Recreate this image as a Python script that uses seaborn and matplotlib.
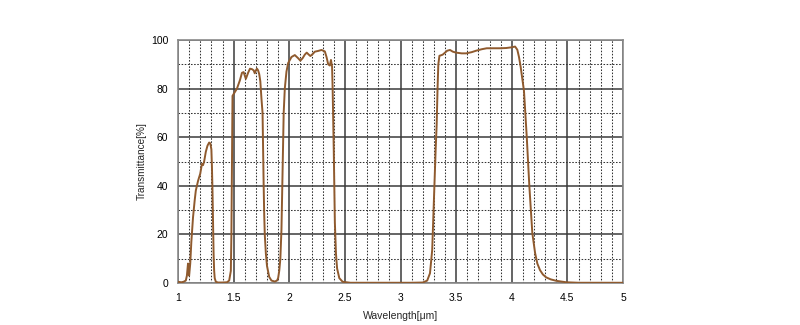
import matplotlib
matplotlib.use("Agg")
import matplotlib.pyplot as plt
import seaborn as sns
import pandas as pd

wavelength = [
    1.00, 1.03, 1.05, 1.07, 1.08, 1.09, 1.095, 1.10, 1.11, 1.12, 1.135, 1.15, 1.16, 1.18, 1.20,
    1.215, 1.225, 1.235, 1.25, 1.265, 1.28, 1.29, 1.30, 1.305, 1.31, 1.315, 1.32, 1.325, 1.33,
    1.34, 1.36, 1.40, 1.44, 1.46, 1.475, 1.48, 1.485, 1.488, 1.49, 1.51, 1.53, 1.557, 1.575,
    1.59, 1.61, 1.63, 1.647, 1.665, 1.68, 1.69, 1.70, 1.71, 1.72, 1.73, 1.74, 1.75, 1.76,
    1.765, 1.77, 1.775, 1.78, 1.79, 1.80, 1.82, 1.84, 1.87, 1.89, 1.90, 1.91, 1.92, 1.93,
    1.94, 1.95, 1.96, 1.975, 1.99, 2.02, 2.05, 2.08, 2.10, 2.12, 2.14, 2.157, 2.175, 2.19,
    2.21, 2.23, 2.26, 2.29, 2.32, 2.335, 2.35, 2.365, 2.375, 2.385, 2.39, 2.40, 2.41, 2.42,
    2.43, 2.45, 2.48, 2.55, 2.80, 3.00, 3.10, 3.20, 3.24, 3.265, 3.285, 3.295, 3.305, 3.316,
    3.325, 3.333, 3.34, 3.35, 3.37, 3.38, 3.40, 3.42, 3.445, 3.47, 3.50, 3.55, 3.59, 3.64,
    3.68, 3.73, 3.775, 3.85, 3.895, 3.95, 4.00, 4.03, 4.05, 4.065, 4.08, 4.095, 4.11, 4.135,
    4.158, 4.185, 4.21, 4.23, 4.254, 4.28, 4.31, 4.35, 4.40, 4.49, 4.60, 5.00,
]
transmittance = [
    0.5, 0.3, 0.5, 1.0, 3.0, 8.0, 4.0, 3.0, 8.0, 17.0, 27.0, 34.0, 38.0, 42.0, 45.0,
    49.0, 48.5, 50.0, 54.0, 56.5, 57.8, 57.5, 55.0, 48.0, 38.0, 25.0, 12.0, 5.0, 2.0,
    0.5, 0.2, 0.2, 0.3, 1.0, 5.0, 20.0, 50.0, 70.0, 77.0, 78.5, 80.0, 83.5, 86.5,
    86.8, 84.0, 86.5, 88.2, 88.0, 87.5, 86.3, 87.5, 88.2, 87.5, 86.0, 83.0, 76.0, 70.0,
    55.0, 40.0, 28.0, 20.0, 12.0, 7.0, 2.5, 1.0, 0.6, 1.0, 2.0, 5.0, 10.0, 22.0,
    45.0, 70.0, 80.0, 87.0, 90.5, 93.0, 93.8, 92.5, 91.5, 92.5, 94.0, 94.8, 94.0, 93.4,
    94.2, 95.2, 95.5, 95.9, 95.3, 93.0, 90.0, 89.5, 91.8, 89.0, 80.0, 55.0, 25.0, 12.0,
    6.0, 2.0, 0.5, 0.1, 0.1, 0.1, 0.1, 0.2, 1.0, 4.0, 13.6, 27.0, 41.0, 55.0,
    65.0, 80.0, 90.0, 93.5, 93.8, 94.0, 94.8, 95.6, 95.9, 95.2, 94.8, 94.5, 94.5, 95.0,
    95.6, 96.2, 96.6, 96.6, 96.6, 96.7, 97.0, 97.3, 96.0, 93.0, 89.0, 84.0, 79.0, 60.0,
    40.0, 20.5, 12.3, 8.0, 5.3, 3.5, 2.3, 1.5, 0.9, 0.3, 0.1, 0.1,
]
x_major = [1, 1.5, 2, 2.5, 3, 3.5, 4, 4.5, 5]
x_labels = ["1", "1.5", "2", "2.5", "3", "3.5", "4", "4.5", "5"]
y_major = [0, 20, 40, 60, 80, 100]

sns.set_style("white")
plt.rcParams["font.family"] = ["Liberation Sans", "DejaVu Sans"]

df = pd.DataFrame({"Wavelength": wavelength, "Transmittance": transmittance})

fig = plt.figure(figsize=(8, 3.25), dpi=100)
ax = fig.add_axes([178 / 800, 1 - 283 / 325, (623 - 178) / 800, (283 - 40) / 325])

sns.lineplot(data=df, x="Wavelength", y="Transmittance", ax=ax, sort=False,
             estimator=None, color="#8f5a2e", linewidth=1.4, zorder=3)

ax.set_xlim(1, 5)
ax.set_ylim(0, 100)
ax.set_xticks(x_major)
ax.set_xticklabels(x_labels)
ax.set_yticks(y_major)
ax.set_xticks([1 + 0.1 * i for i in range(41)], minor=True)
ax.set_yticks(list(range(0, 101, 10)), minor=True)

ax.grid(which="minor", color="#333333", linestyle=(0, (1.5, 1.5)), linewidth=0.75, zorder=1)
ax.grid(which="major", color="#3a3a3a", linestyle="-", linewidth=1.1, zorder=2)
ax.set_axisbelow(True)

for s in ax.spines.values():
    s.set_color("#8a8a8a")
    s.set_linewidth(1.2)

ax.tick_params(axis="both", which="major", labelsize=7.5, colors="#000000")
ax.tick_params(axis="y", which="both", length=2, width=0.6, color="#555555", direction="out", pad=5)
ax.tick_params(axis="x", which="both", length=0, pad=7)

ax.set_xlabel("Wavelength[μm]", fontsize=7.5, labelpad=6)
ax.set_ylabel("Transmittance[%]", fontsize=7.2, labelpad=3)

fig.savefig("out.png", dpi=100, facecolor="white")
